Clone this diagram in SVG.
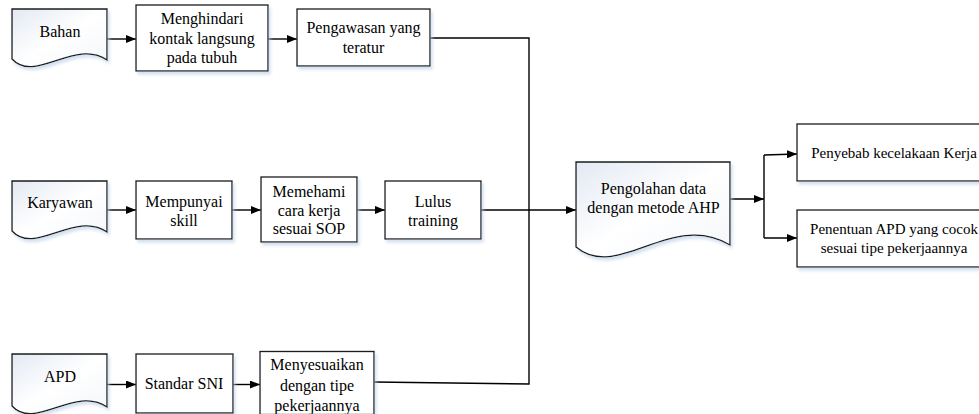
<svg xmlns="http://www.w3.org/2000/svg" width="979" height="414" viewBox="0 0 979 414">
<defs>
<style>
.box{fill:#fff;stroke:#1a1a1a;stroke-width:1.3;filter:url(#sh)}
.doc{fill:url(#g);stroke:#1a1a1a;stroke-width:1.3;filter:url(#sh)}
.ln{fill:none;stroke:#000;stroke-width:1.4}
.ar{marker-end:url(#ah)}
</style>
<linearGradient id="g" x1="0" y1="0" x2="1" y2="1">
<stop offset="0" stop-color="#e3e9f3"/>
<stop offset="0.5" stop-color="#ffffff"/>
<stop offset="1" stop-color="#f3f6fa"/>
</linearGradient>
<filter id="sh" x="-10%" y="-10%" width="130%" height="140%">
<feDropShadow dx="2" dy="3" stdDeviation="1.5" flood-color="#b9cde6" flood-opacity="0.6"/>
</filter>
<marker id="ah" markerWidth="10" markerHeight="8" refX="10" refY="4" orient="auto" markerUnits="userSpaceOnUse">
<path d="M0,0 L10,4 L0,8 Z" fill="#000"/>
</marker>
</defs>

<g id="connectors">
<path class="ln ar" d="M107,39 H136"/>
<path class="ln ar" d="M268,39 H297"/>
<path class="ln" d="M430,38 H529 V384 L374,382"/>
<path class="ln ar" d="M107,210 H136"/>
<path class="ln ar" d="M232,210 H261"/>
<path class="ln ar" d="M357,210 H385"/>
<path class="ln ar" d="M481,210 H576"/>
<path class="ln ar" d="M107,384.5 H136"/>
<path class="ln ar" d="M233,384.5 H260"/>
<path class="ln ar" d="M730,199 H764"/>
<path class="ln ar" d="M764,155 L797,154"/>
<path class="ln" d="M764,155 V238"/>
<path class="ln ar" d="M764,238 H797"/>
</g>

<g font-family="Liberation Serif, Times New Roman, serif" font-size="16" text-anchor="middle" fill="#000">
<g id="bahan">
<path class="doc" d="M12,9 H107 V60 C75,38 35,84 12,59 Z"/>
<text x="60" y="37">Bahan</text>
</g>
<g id="menghindari">
<rect class="box" x="136" y="5" width="132" height="66"/>
<text x="202" y="24">Menghindari</text>
<text x="202" y="43.5">kontak langsung</text>
<text x="202" y="63">pada tubuh</text>
</g>
<g id="pengawasan">
<rect class="box" x="297" y="9" width="133" height="57"/>
<text x="363.5" y="33">Pengawasan yang</text>
<text x="363.5" y="53">teratur</text>
</g>

<g id="karyawan">
<path class="doc" d="M12,181 H107 V232 C75,210 35,256 12,231 Z"/>
<text x="60" y="208">Karyawan</text>
</g>
<g id="mempunyai">
<rect class="box" x="136" y="181" width="96" height="58"/>
<text x="184" y="206.5">Mempunyai</text>
<text x="184" y="225.5">skill</text>
</g>
<g id="memehami">
<rect class="box" x="261" y="177" width="96" height="65"/>
<text x="309" y="197">Memehami</text>
<text x="309" y="215.5">cara kerja</text>
<text x="309" y="234">sesuai SOP</text>
</g>
<g id="lulus">
<rect class="box" x="385" y="181" width="96" height="58"/>
<text x="433" y="206.5">Lulus</text>
<text x="433" y="225.5">training</text>
</g>

<g id="apd">
<path class="doc" d="M12,354 H107 V407 C75,385 35,431 12,406 Z"/>
<text x="60" y="382">APD</text>
</g>
<g id="standar">
<rect class="box" x="136" y="354" width="97" height="59"/>
<text x="184" y="389">Standar SNI</text>
</g>
<g id="menyesuaikan">
<rect class="box" x="260" y="351.5" width="114" height="63"/>
<text x="317" y="370">Menyesuaikan</text>
<text x="317" y="391">dengan tipe</text>
<text x="317" y="411">pekerjaannya</text>
</g>

<g id="ahp">
<path class="doc" d="M576,162 H730 V245 C671,210 618,282 576,247 Z"/>
<text x="653.5" y="194">Pengolahan data</text>
<text x="653.5" y="213">dengan metode AHP</text>
</g>

<g id="penyebab">
<rect class="box" x="797" y="124" width="194" height="57"/>
<text font-size="15" x="894" y="157.5">Penyebab kecelakaan Kerja</text>
</g>
<g id="penentuan">
<rect class="box" x="797" y="210" width="194" height="57"/>
<text font-size="15" x="894" y="233.5">Penentuan APD yang cocok</text>
<text font-size="15" x="894" y="252.5">sesuai tipe pekerjaannya</text>
</g>
</g>
</svg>
